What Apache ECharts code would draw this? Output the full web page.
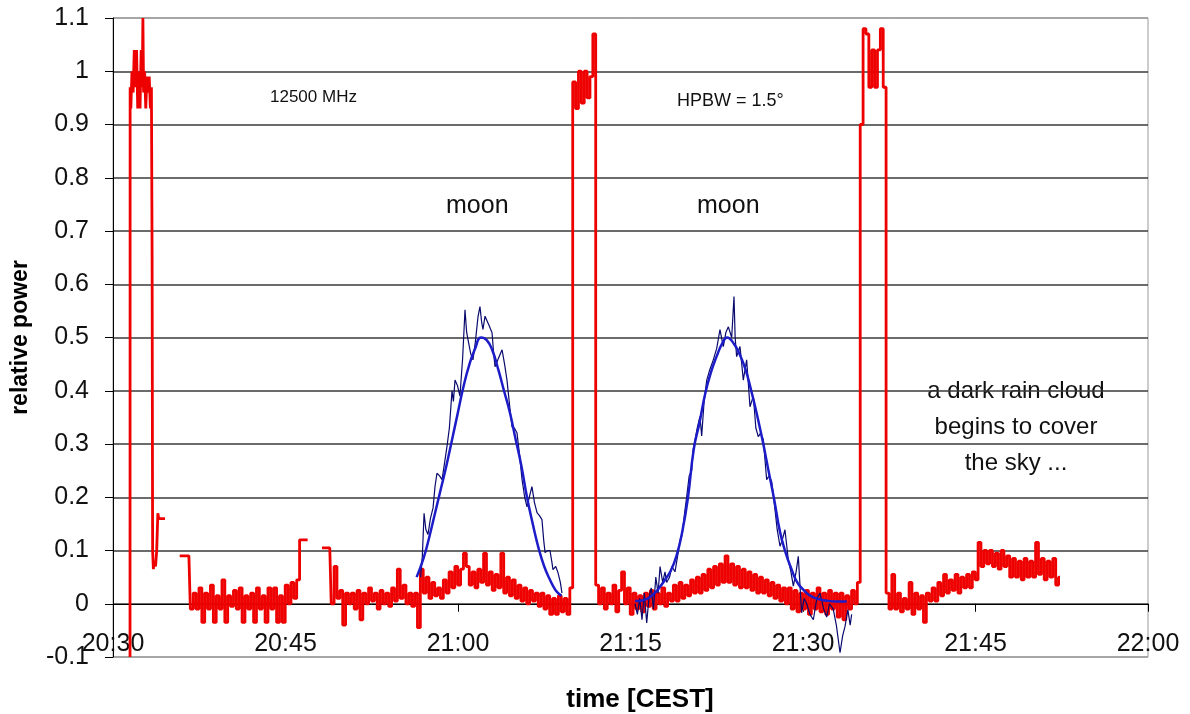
<!DOCTYPE html>
<html>
<head>
<meta charset="utf-8">
<script src="https://cdn.jsdelivr.net/npm/echarts@6/dist/echarts.min.js"></script>
<style>
  html, body { margin: 0; padding: 0; background: #fff; }
  #chart { width: 1190px; height: 714px; }
</style>
</head>
<body>
<div id="chart"></div>
<script>
// x values are minutes after 20:30 (CEST)
var sampleStep = 0.25;

// red trace, first segment (sun / calibration spike at 20:31)
var seg1Time = [1.48, 1.50, 1.6, 1.7, 1.8, 1.9, 2.0, 2.1, 2.2, 2.3, 2.4, 2.5, 2.58, 2.62, 2.7, 2.8, 2.9, 3.0, 3.1, 3.2, 3.3, 3.38, 3.42, 3.47, 3.55, 3.65, 3.75, 3.85, 3.95, 4.0, 4.05];
var seg1Value = [-0.1, 0.97, 0.93, 1.0, 0.96, 1.04, 0.97, 1.04, 0.93, 1.0, 0.93, 1.04, 0.97, 1.1, 0.96, 1.0, 0.93, 0.99, 0.96, 0.99, 0.93, 0.97, 0.65, 0.1, 0.065, 0.08, 0.07, 0.1, 0.17, 0.16, 0.16];

// red trace, second segment (sampled every 0.25 min)
var seg2Start = 6.6;
var seg2Value = [0.09, -0.01, 0.02, -0.01, 0.03, -0.035, 0.02, -0.01, 0.035, -0.035,
  0.015, -0.01, 0.045, -0.035, 0.015, -0.005, 0.025, -0.01, 0.03, -0.035,
  0.015, -0.01, 0.02, -0.035, 0.03, -0.01, 0.015, -0.035, 0.03, -0.01,
  0.03, -0.035, 0.015, -0.035, 0.035, 0.0, 0.04, 0.01, 0.045, 0.12];

// red trace, third segment (sampled every 0.25 min)
var seg3Start = 18.85;
var seg3Value = [
  0.105, 0.0, 0.07, 0.01, 0.025, -0.04, 0.02, 0.0, 0.02, -0.01,
  0.025, -0.03, 0.02, 0.0, 0.03, 0.005, 0.02, -0.01, 0.025, 0.0,
  0.02, -0.005, 0.03, 0.005, 0.065, 0.01, 0.035, 0.0, 0.02, -0.005,
  0.02, -0.045, 0.065, 0.02, 0.05, 0.01, 0.04, 0.015, 0.03, 0.01,
  0.045, 0.02, 0.06, 0.03, 0.07, 0.035, 0.065, 0.095, 0.07, 0.035,
  0.06, 0.03, 0.065, 0.04, 0.095, 0.035, 0.06, 0.025, 0.055, 0.03,
  0.095, 0.02, 0.05, 0.015, 0.045, 0.01, 0.035, 0.005, 0.03, 0.0,
  0.025, 0.005, 0.02, -0.005, 0.02, -0.01, 0.015, -0.02, 0.01, -0.02,
  0.015, -0.015, 0.01, -0.02, 0.03, 0.98, 0.93, 1.0, 0.94, 1.0,
  0.95, 0.99, 1.07, 0.035, 0.0, 0.03, -0.01, 0.02, 0.0, 0.035,
  -0.015, 0.025, 0.06, 0.0, 0.03, -0.02, 0.02, -0.01, 0.015, -0.015,
  0.02, -0.005, 0.025, -0.01, 0.02, 0.0, 0.03, -0.005, 0.02, 0.005,
  0.035, 0.005, 0.04, 0.01, 0.035, 0.015, 0.045, 0.02, 0.05, 0.02,
  0.055, 0.025, 0.065, 0.03, 0.07, 0.035, 0.075, 0.04, 0.09, 0.04,
  0.075, 0.035, 0.07, 0.03, 0.065, 0.03, 0.06, 0.025, 0.055, 0.02,
  0.05, 0.02, 0.045, 0.015, 0.04, 0.01, 0.035, 0.005, 0.03, 0.0,
  0.03, -0.01, 0.025, -0.015, 0.02, -0.01, 0.025, -0.02, 0.02, -0.01,
  0.03, -0.015, 0.02, -0.02, 0.025, -0.01, 0.02, -0.025, 0.02, -0.03,
  0.015, -0.01, 0.025, 0.0, 0.04, 0.9, 1.08, 1.07, 0.97, 1.04,
  0.97, 1.04, 1.08, 0.97, 0.02, -0.01, 0.055, -0.01, 0.02, -0.015,
  0.01, -0.01, 0.04, -0.02, 0.02, -0.01, 0.015, -0.035, 0.02, 0.005,
  0.03, 0.005, 0.04, 0.015, 0.055, 0.02, 0.045, 0.025, 0.055, 0.02,
  0.05, 0.03, 0.055, 0.03, 0.06, 0.045, 0.115, 0.07, 0.1, 0.075,
  0.1, 0.07, 0.095, 0.065, 0.1, 0.07, 0.09, 0.05, 0.085, 0.05,
  0.08, 0.045, 0.085, 0.05, 0.08, 0.05, 0.115, 0.055, 0.085, 0.045,
  0.08, 0.05, 0.085, 0.035, 0.05];

// measured moon transits (thin dark blue)
var moon1Time = [26.75, 26.9, 27.05, 27.2, 27.39, 27.6, 27.83, 28.0, 28.17, 28.4, 28.61, 28.8, 29.04, 29.25, 29.48, 29.6, 29.74, 29.95, 30.17, 30.4, 30.61, 30.75, 30.87, 31.1, 31.3, 31.5, 31.74, 31.91, 32.05, 32.17, 32.35, 32.52, 32.75, 32.96, 33.1, 33.22, 33.5, 33.83, 34.05, 34.26, 34.5, 34.7, 34.9, 35.13, 35.35, 35.57, 35.8, 36.0, 36.2, 36.43, 36.65, 36.87, 37.1, 37.3, 37.45, 37.57, 37.8, 38.0, 38.15, 38.26, 38.5, 38.7, 38.9, 39.04];
var moon1Value = [0.05, 0.09, 0.17, 0.14, 0.13, 0.16, 0.18, 0.22, 0.245, 0.24, 0.233, 0.26, 0.295, 0.33, 0.40, 0.38, 0.42, 0.41, 0.39, 0.46, 0.552, 0.51, 0.496, 0.47, 0.458, 0.49, 0.539, 0.558, 0.53, 0.515, 0.54, 0.539, 0.52, 0.509, 0.47, 0.445, 0.46, 0.477, 0.45, 0.42, 0.37, 0.332, 0.33, 0.321, 0.28, 0.233, 0.2, 0.182, 0.2, 0.22, 0.19, 0.171, 0.165, 0.158, 0.12, 0.096, 0.1, 0.10, 0.08, 0.064, 0.07, 0.058, 0.04, 0.02];

var moon2Time = [45.39, 45.6, 45.8, 46.0, 46.2, 46.41, 46.6, 46.8, 47.0, 47.2, 47.4, 47.57, 47.8, 48.0, 48.14, 48.4, 48.6, 48.87, 49.1, 49.3, 49.5, 49.7, 49.88, 50.1, 50.32, 50.45, 50.61, 50.8, 51.04, 51.19, 51.4, 51.63, 51.9, 52.2, 52.5, 52.78, 53.07, 53.3, 53.51, 53.8, 54.0, 54.1, 54.23, 54.52, 54.81, 55.1, 55.39, 55.68, 55.9, 56.11, 56.3, 56.55, 56.84, 57.05, 57.28, 57.5, 57.75, 58.0, 58.2, 58.43, 58.72, 58.95, 59.16, 59.4, 59.59, 59.88, 60.1, 60.32, 60.6, 60.9, 61.2, 61.48, 61.8, 62.06, 62.3, 62.63, 62.9, 63.22, 63.45, 63.65, 63.9, 64.1, 64.23];
var moon2Value = [0.0, -0.02, 0.01, -0.03, 0.02, -0.036, 0.01, 0.03, -0.01, 0.05, 0.02, 0.07, 0.04, 0.06, 0.04, 0.05, 0.07, 0.06, 0.09, 0.118, 0.13, 0.17, 0.2, 0.24, 0.25, 0.29, 0.308, 0.33, 0.352, 0.315, 0.38, 0.42, 0.44, 0.458, 0.48, 0.515, 0.483, 0.51, 0.52, 0.50, 0.577, 0.5, 0.464, 0.483, 0.42, 0.458, 0.37, 0.39, 0.33, 0.314, 0.32, 0.308, 0.233, 0.24, 0.229, 0.19, 0.14, 0.108, 0.12, 0.139, 0.083, 0.06, 0.033, 0.06, 0.089, -0.017, 0.01, 0.0, -0.02, -0.03, 0.01, 0.02, -0.01, -0.025, 0.0, -0.01, -0.04, -0.092, -0.06, -0.043, -0.011, -0.04, -0.02];

// fitted beam curves (smooth blue)
var fit1Time = [26.4, 27.0, 27.5, 28.0, 28.5, 29.0, 29.5, 30.0, 30.5, 31.0, 31.5, 32.0, 32.5, 33.0, 33.5, 34.0, 34.5, 35.0, 35.5, 36.0, 36.5, 37.0, 37.5, 38.0, 38.5, 39.0];
var fit1Value = [0.05, 0.085, 0.125, 0.17, 0.215, 0.26, 0.31, 0.36, 0.41, 0.45, 0.48, 0.50, 0.495, 0.475, 0.44, 0.40, 0.36, 0.31, 0.26, 0.20, 0.15, 0.105, 0.07, 0.045, 0.025, 0.015];
var fit2Time = [45.4, 46.0, 46.5, 47.0, 47.5, 48.0, 48.5, 49.0, 49.5, 50.0, 50.5, 51.0, 51.5, 52.0, 52.5, 53.0, 53.4, 54.0, 54.5, 55.0, 55.5, 56.0, 56.5, 57.0, 57.5, 58.0, 58.5, 59.0, 59.5, 60.0, 60.5, 61.0, 62.0, 63.0, 63.8];
var fit2Value = [0.005, 0.006, 0.01, 0.018, 0.03, 0.045, 0.062, 0.09, 0.135, 0.2, 0.29, 0.34, 0.395, 0.435, 0.465, 0.49, 0.5, 0.488, 0.468, 0.44, 0.40, 0.355, 0.305, 0.25, 0.195, 0.135, 0.095, 0.065, 0.04, 0.027, 0.017, 0.011, 0.006, 0.004, 0.004];

var xTicks = [0, 15, 30, 45, 60, 75, 90];
var yTicks = [-0.1, 0, 0.1, 0.2, 0.3, 0.4, 0.5, 0.6, 0.7, 0.8, 0.9, 1, 1.1];

var FONT = "'Liberation Sans', Arial, sans-serif";

function pairs(t, v) {
  return t.map(function (x, i) { return [x, v[i]]; });
}
function sampled(start, vals) {
  return vals.map(function (v, i) { return [+(start + i * sampleStep).toFixed(3), v]; });
}
function clock(v) {
  var m = 20 * 60 + 30 + Math.round(v);
  var h = Math.floor(m / 60), mm = m % 60;
  return h + ':' + (mm < 10 ? '0' : '') + mm;
}

var redData = pairs(seg1Time, seg1Value)
  .concat([[5, '-']])
  .concat(sampled(seg2Start, seg2Value))
  .concat([[17.5, '-']])
  .concat(sampled(seg3Start, seg3Value));

var gridColors = yTicks.map(function (v, i) {
  return (i === 0 || i === yTicks.length - 1) ? '#9a9a9a' : '#3a3a3a';
});

var myChart = echarts.init(document.getElementById('chart'), null, { renderer: 'canvas' });

var option = {
  animation: false,
  backgroundColor: '#fff',
  grid: {
    left: 113, right: 42, top: 18, bottom: 57,
    outerBoundsMode: 'none',
    containLabel: false,
    show: true, borderColor: '#9a9a9a', borderWidth: 1, backgroundColor: 'transparent'
  },
  xAxis: {
    type: 'value',
    min: xTicks[0],
    max: xTicks[xTicks.length - 1],
    interval: 15,
    axisLine: { onZero: true, lineStyle: { color: '#000', width: 1 } },
    axisTick: { show: true, inside: false, length: 8, lineStyle: { color: '#000' } },
    axisLabel: {
      fontFamily: FONT, fontSize: 25, color: '#111', margin: -25,
      showMinLabel: true, showMaxLabel: true,
      formatter: clock
    },
    splitLine: { show: false }
  },
  yAxis: {
    type: 'value',
    min: yTicks[0],
    max: yTicks[yTicks.length - 1],
    interval: 0.1,
    name: 'relative power',
    nameLocation: 'middle',
    nameGap: 81,
    nameTextStyle: { fontFamily: FONT, fontSize: 23, fontWeight: 'bold', color: '#000' },
    axisLine: { show: true, lineStyle: { color: '#000', width: 1 } },
    axisTick: { show: true, inside: false, length: 8, lineStyle: { color: '#000' } },
    axisLabel: {
      fontFamily: FONT, fontSize: 25, color: '#111', margin: 24,
      formatter: function (v) { return String(Math.round(v * 10) / 10); }
    },
    splitLine: { show: true, lineStyle: { color: gridColors, width: 1.5 } }
  },
  series: [
    {
      name: 'signal',
      type: 'line',
      data: redData,
      step: 'middle',
      showSymbol: false,
      connectNulls: false,
      lineStyle: { color: '#ee0000', width: 2.8 },
      z: 2
    },
    {
      name: 'moon 1',
      type: 'line',
      data: pairs(moon1Time, moon1Value),
      showSymbol: false,
      lineStyle: { color: '#0a0a6e', width: 1.2 },
      z: 3
    },
    {
      name: 'moon 2',
      type: 'line',
      data: pairs(moon2Time, moon2Value),
      showSymbol: false,
      lineStyle: { color: '#0a0a6e', width: 1.2 },
      z: 3
    },
    {
      name: 'fit 1',
      type: 'line',
      data: pairs(fit1Time, fit1Value),
      smooth: true,
      showSymbol: false,
      lineStyle: { color: '#1c1cc8', width: 2.5 },
      z: 4
    },
    {
      name: 'fit 2',
      type: 'line',
      data: pairs(fit2Time, fit2Value),
      smooth: true,
      showSymbol: false,
      lineStyle: { color: '#1c1cc8', width: 2.5 },
      z: 4
    }
  ],
  graphic: [
    { type: 'text', left: 270, top: 89, style: { text: '12500 MHz', fontFamily: FONT, fontSize: 17, fill: '#111' } },
    { type: 'text', left: 677, top: 92, style: { text: 'HPBW = 1.5°', fontFamily: FONT, fontSize: 18, fill: '#111' } },
    { type: 'text', left: 446, top: 194, style: { text: 'moon', fontFamily: FONT, fontSize: 25, fill: '#111' } },
    { type: 'text', left: 697, top: 194, style: { text: 'moon', fontFamily: FONT, fontSize: 25, fill: '#111' } },
    {
      type: 'text', x: 1016, y: 373,
      style: {
        text: 'a dark rain cloud\nbegins to cover\nthe sky ...',
        fontFamily: FONT, fontSize: 24, lineHeight: 36, fill: '#111', align: 'center'
      }
    },
    {
      type: 'text', x: 640, y: 700,
      style: {
        text: 'time [CEST]', fontFamily: FONT, fontSize: 26, fontWeight: 'bold',
        fill: '#000', align: 'center', verticalAlign: 'middle'
      }
    }
  ]
};
myChart.setOption(option);
</script>
</body>
</html>
